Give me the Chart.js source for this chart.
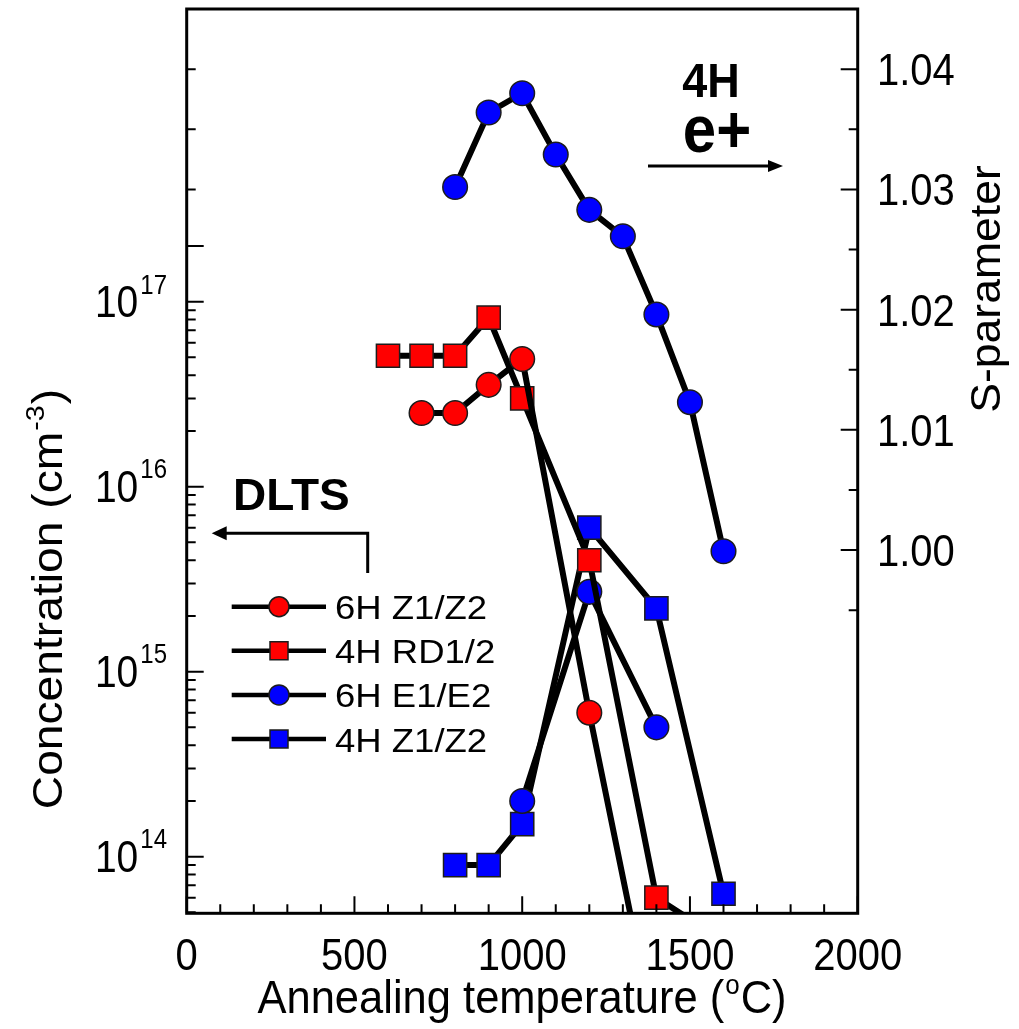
<!DOCTYPE html>
<html>
<head>
<meta charset="utf-8">
<script src="https://cdn.jsdelivr.net/npm/chart.js@4/dist/chart.umd.min.js"></script>
<style>
  html, body { margin: 0; padding: 0; background: #fff; }
  canvas { display: block; }
</style>
</head>
<body>
<canvas id="chart" width="1019" height="1029"></canvas>
<script>
// DLTS defect concentrations (cm^-3) versus annealing temperature (°C)
const tempZ6H  = [700, 800, 900, 1000, 1200, 1400];
const concZ6H  = [2.5e16, 2.5e16, 3.55e16, 4.9e16, 6.0e14, 1.0e13];

const tempRD4H = [600, 700, 800, 900, 1000, 1200, 1400, 1600];
const concRD4H = [5.1e16, 5.1e16, 5.1e16, 8.2e16, 3.0e16, 4.0e15, 6.0e13, 3.5e13];

const tempE6H  = [1000, 1200, 1400];
const concE6H  = [2.0e14, 2.7e15, 5.0e14];

const tempZ4H  = [800, 900, 1000, 1200, 1400, 1600];
const concZ4H  = [9.0e13, 9.0e13, 1.5e14, 6.0e15, 2.2e15, 6.3e13];

// Positron annihilation S-parameter, 4H (right axis)
const tempS  = [800, 900, 1000, 1100, 1200, 1300, 1400, 1500, 1600];
const sParam = [1.0302, 1.0364, 1.0380, 1.0329, 1.0283, 1.0261, 1.0196, 1.0123, 0.9999];

// Tick values and labels
const xMajorTicks   = [0, 500, 1000, 1500, 2000];
const xMinorStep    = 100;
const concDecades   = [14, 15, 16, 17];
const sMajorTicks   = [1.00, 1.01, 1.02, 1.03, 1.04];
const sTickLabels   = ['1.00', '1.01', '1.02', '1.03', '1.04'];
const sMinorTicks   = [0.995, 1.005, 1.015, 1.025, 1.035];

const FONT  = '"Liberation Sans", Arial, Helvetica, sans-serif';
const RED   = '#ff0000';
const BLUE  = '#0000ff';
const EDGE  = '#1c1c1c';

function points(xs, ys) {
  return xs.map((x, i) => ({ x: x, y: ys[i] }));
}

function series(label, xs, ys, color, style, axis) {
  return {
    label: label,
    data: points(xs, ys),
    yAxisID: axis,
    showLine: true,
    tension: 0,
    clip: 0,
    borderColor: '#000',
    borderWidth: 6,
    pointStyle: style,
    pointRadius: style === 'circle' ? 12.3 : 16.4,
    pointHoverRadius: style === 'circle' ? 12.3 : 16.4,
    pointBackgroundColor: color,
    pointBorderColor: EDGE,
    pointBorderWidth: 1.5,
    inLegend: axis === 'y'
  };
}

// plain or stretched text
function text(ctx, str, x, y, o) {
  ctx.save();
  ctx.translate(x, y);
  ctx.scale(1, o.sy || 1);
  if (o.rot) ctx.rotate(o.rot);
  ctx.font = (o.bold ? 'bold ' : '') + o.size + 'px ' + FONT;
  ctx.textAlign = o.align || 'left';
  ctx.textBaseline = 'alphabetic';
  ctx.fillStyle = '#000';
  ctx.fillText(str, 0, 0);
  ctx.restore();
}

// text made of runs, some of them raised (superscripts)
function rich(ctx, runs, x, y, o) {
  ctx.save();
  ctx.translate(x, y);
  ctx.scale(1, o.sy || 1);
  if (o.rot) ctx.rotate(o.rot);
  ctx.fillStyle = '#000';
  ctx.textBaseline = 'alphabetic';
  ctx.textAlign = 'left';
  const fontOf = r => (r.size || o.size) + 'px ' + FONT;
  let total = 0;
  runs.forEach(r => {
    ctx.font = fontOf(r);
    r.w = ctx.measureText(r.t).width;
    total += r.w + (r.gap || 0);
  });
  let cx = o.align === 'center' ? -total / 2 : (o.align === 'right' ? -total : 0);
  runs.forEach(r => {
    ctx.font = fontOf(r);
    cx += (r.gap || 0);
    ctx.fillText(r.t, cx, -(r.rise || 0));
    cx += r.w;
  });
  ctx.restore();
}

function arrowHead(ctx, tipX, tipY, dir, len, half) {
  ctx.beginPath();
  ctx.moveTo(tipX, tipY);
  ctx.lineTo(tipX - dir * len, tipY - half);
  ctx.lineTo(tipX - dir * len, tipY + half);
  ctx.closePath();
  ctx.fill();
}

const decorations = {
  id: 'decorations',
  afterDraw(chart) {
    const ctx = chart.ctx;
    const ca = chart.chartArea;
    const xs = chart.scales.x, ys = chart.scales.y, ss = chart.scales.y2;
    const MAJ = 17, MIN = 9;

    ctx.save();
    ctx.strokeStyle = '#000';
    ctx.fillStyle = '#000';
    ctx.lineCap = 'butt';

    // ticks
    ctx.lineWidth = 2;
    ctx.beginPath();
    for (let v = xs.min; v <= xs.max; v += xMinorStep) {
      const px = xs.getPixelForValue(v);
      const len = xMajorTicks.includes(v) ? MAJ : MIN;
      ctx.moveTo(px, ca.bottom);
      ctx.lineTo(px, ca.bottom - len);
    }
    concDecades.concat([13]).forEach(d => {
      for (let m = 1; m <= 9; m++) {
        const v = m * Math.pow(10, d);
        if (v < ys.min || v > 2e17) continue;
        const py = ys.getPixelForValue(v);
        const len = (m === 1 || m === 2 && d === 17) ? MAJ : MIN;
        ctx.moveTo(ca.left, py);
        ctx.lineTo(ca.left + len, py);
      }
    });
    [1.03, 1.035, 1.04].forEach(v => {
      const py = ss.getPixelForValue(v);
      ctx.moveTo(ca.left, py);
      ctx.lineTo(ca.left + MIN, py);
    });
    sMajorTicks.forEach(v => {
      const py = ss.getPixelForValue(v);
      ctx.moveTo(ca.right, py);
      ctx.lineTo(ca.right - MAJ, py);
    });
    sMinorTicks.forEach(v => {
      const py = ss.getPixelForValue(v);
      ctx.moveTo(ca.right, py);
      ctx.lineTo(ca.right - MIN, py);
    });
    ctx.stroke();

    // frame
    ctx.lineWidth = 3;
    ctx.strokeRect(ca.left, ca.top, ca.right - ca.left, ca.bottom - ca.top);

    // x tick labels
    xMajorTicks.forEach(v => {
      text(ctx, String(v), xs.getPixelForValue(v), 970, { size: 40, sy: 1.12, align: 'center' });
    });
    // left tick labels 10^n
    concDecades.forEach(d => {
      const py = ys.getPixelForValue(Math.pow(10, d));
      rich(ctx, [
        { t: '10' },
        { t: String(d), size: 24, rise: 20.5, gap: 2 }
      ], 167, py + 15, { size: 39, sy: 1.13, align: 'right' });
    });
    // right tick labels
    sMajorTicks.forEach((v, i) => {
      text(ctx, sTickLabels[i], 877, ss.getPixelForValue(v) + 16, { size: 40, sy: 1.12 });
    });

    // axis titles
    rich(ctx, [
      { t: 'Annealing temperature (' },
      { t: 'o', size: 26, rise: 18, gap: 1 },
      { t: 'C)', gap: 1 }
    ], 522, 1013, { size: 43.5, sy: 1.06, align: 'center' });

    rich(ctx, [
      { t: 'Concentration (cm' },
      { t: '-3', size: 26, rise: 18, gap: 1 },
      { t: ')', gap: 1 }
    ], 62, 599, { size: 42, sy: 1.1, align: 'center', rot: -Math.PI / 2 });

    text(ctx, 'S-parameter', 1000, 289, { size: 42, sy: 1.06, align: 'center', rot: -Math.PI / 2 });

    // DLTS note with arrow towards the left axis
    text(ctx, 'DLTS', 233, 510, { size: 46, sy: 0.97, bold: true });
    ctx.lineWidth = 3;
    ctx.beginPath();
    ctx.moveTo(367.7, 573);
    ctx.lineTo(367.7, 533.3);
    ctx.lineTo(224, 533.3);
    ctx.stroke();
    arrowHead(ctx, 211.7, 533.3, -1, 15, 7);

    // 4H e+ note with arrow towards the right axis
    text(ctx, '4H', 711, 97, { size: 45, sy: 1.06, bold: true, align: 'center' });
    text(ctx, 'e+', 717, 152, { size: 60, sy: 1.1, bold: true, align: 'center' });
    ctx.beginPath();
    ctx.moveTo(648, 166);
    ctx.lineTo(772, 166);
    ctx.stroke();
    arrowHead(ctx, 783, 166, 1, 15, 6);

    // legend for the DLTS series
    const rows = chart.data.datasets.filter(ds => ds.inLegend);
    rows.forEach((ds, i) => {
      const ry = 606.7 + i * 44.1;
      ctx.lineWidth = 4.5;
      ctx.strokeStyle = '#000';
      ctx.beginPath();
      ctx.moveTo(231.7, ry);
      ctx.lineTo(326, ry);
      ctx.stroke();
      ctx.fillStyle = ds.pointBackgroundColor;
      ctx.strokeStyle = EDGE;
      ctx.lineWidth = 1.5;
      ctx.beginPath();
      if (ds.pointStyle === 'circle') {
        ctx.arc(279, ry, 10, 0, Math.PI * 2);
      } else {
        ctx.rect(270, ry - 9, 18, 18);
      }
      ctx.fill();
      ctx.stroke();
      ctx.fillStyle = '#000';
      text(ctx, ds.label, 335, ry + 12.5, { size: 36.5, sy: 0.9 });
    });

    ctx.restore();
  }
};

new Chart(document.getElementById('chart'), {
  type: 'scatter',
  data: {
    datasets: [
      series('6H Z1/Z2', tempZ6H, concZ6H, RED, 'circle', 'y'),
      series('4H RD1/2', tempRD4H, concRD4H, RED, 'rect', 'y'),
      series('6H E1/E2', tempE6H, concE6H, BLUE, 'circle', 'y'),
      series('4H Z1/Z2', tempZ4H, concZ4H, BLUE, 'rect', 'y'),
      series('4H S-parameter', tempS, sParam, BLUE, 'circle', 'y2')
    ]
  },
  options: {
    responsive: false,
    animation: false,
    events: [],
    layout: { autoPadding: false, padding: { top: 9, left: 0, right: 0, bottom: 0 } },
    plugins: { legend: { display: false }, tooltip: { enabled: false }, title: { display: false } },
    scales: {
      x: {
        type: 'linear', min: 0, max: 2000, bounds: 'data',
        grid: { display: false }, border: { display: false }, ticks: { display: false },
        afterFit(s) { s.height = 1029 - 913.3; }
      },
      y: {
        type: 'logarithmic', position: 'left', min: 4.94e13, max: 3.82e18, bounds: 'data',
        grid: { display: false }, border: { display: false }, ticks: { display: false },
        afterFit(s) { s.width = 186.7; }
      },
      y2: {
        type: 'linear', position: 'right', min: 0.96978, max: 1.04501, bounds: 'data',
        grid: { display: false }, border: { display: false }, ticks: { display: false },
        afterFit(s) { s.width = 1019 - 857.7; }
      }
    }
  },
  plugins: [decorations]
});
</script>
</body>
</html>
